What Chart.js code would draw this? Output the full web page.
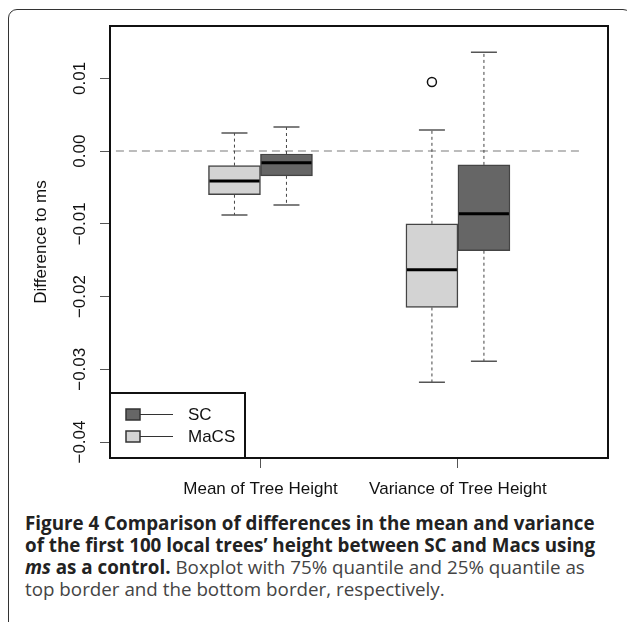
<!DOCTYPE html>
<html lang="en">
<head>
    <meta charset="UTF-8">
    <title>Figure 4</title>
    <script src="https://cdn.jsdelivr.net/npm/chart.js@4"></script>
    <style>
        html, body {
            margin: 0;
            padding: 0;
            background: #fff;
            overflow: hidden;
            width: 627px;
            height: 622px;
        }
        .frame {
            position: absolute;
            left: 8px;
            top: 9px;
            width: 622px;
            height: 700px;
            border: 1.5px solid #333;
            border-radius: 9px;
        }
        .chart-box {
            position: absolute;
            left: 0;
            top: 0;
            width: 627px;
            height: 505px;
        }
        .caption {
            position: absolute;
            left: 25px;
            top: 512px;
            width: 600px;
            font-family: "Open Sans", sans-serif;
            font-size: 18.8px;
            line-height: 22px;
            color: #444;
            white-space: nowrap;
        }
        .caption b {
            color: #222;
        }
    </style>
</head>
<body>
    <div class="frame"></div>
    <div class="chart-box">
        <canvas id="boxChart"></canvas>
    </div>
    <div class="caption">
        <b>Figure 4 Comparison of differences in the mean and variance<br>
        of the first 100 local trees’ height between SC and Macs using<br>
        <i>ms</i> as a control.</b> Boxplot with 75% quantile and 25% quantile as<br>
        top border and the bottom border, respectively.
    </div>

    <script>
        // categories
        const groups = ['Mean of Tree Height', 'Variance of Tree Height'];
        const yTicks = [-0.04, -0.03, -0.02, -0.01, 0.00, 0.01];

        // MaCS (light boxes)
        const macsLow = [-0.0088, -0.0318];
        const macsQ1 = [-0.0060, -0.0215];
        const macsMedian = [-0.0041, -0.0163];
        const macsQ3 = [-0.0020, -0.0100];
        const macsHigh = [0.0025, 0.0029];
        const macsOutliers = [[], [0.0095]];

        // SC (dark boxes)
        const scLow = [-0.0074, -0.0289];
        const scQ1 = [-0.0034, -0.0137];
        const scMedian = [-0.0016, -0.0086];
        const scQ3 = [-0.0004, -0.0019];
        const scHigh = [0.0033, 0.0136];
        const scOutliers = [[], []];

        // dashed reference line at zero
        const refValue = 0;
        const refFrom = 0.268;
        const refTo = 2.618;

        const FONT = 'Liberation Sans';

        function makeSet(label, q1, q3, low, med, high, outl, fill) {
            return {
                label: label,
                data: groups.map((g, i) => ({ x: i + 1, y: [q1[i], q3[i]] })),
                backgroundColor: fill,
                borderColor: '#444',
                borderWidth: 1.5,
                borderSkipped: false,
                barThickness: 52,
                stats: { low: low, median: med, high: high, outliers: outl }
            };
        }

        // zero line under the boxes
        const refLine = {
            id: 'refLine',
            beforeDatasetsDraw(chart) {
                const ctx = chart.ctx;
                const xs = chart.scales.x, ys = chart.scales.y;
                const y = ys.getPixelForValue(refValue);
                ctx.save();
                ctx.strokeStyle = '#bcbcbc';
                ctx.lineWidth = 2;
                ctx.setLineDash([8, 5]);
                ctx.beginPath();
                ctx.moveTo(xs.getPixelForValue(refFrom), y);
                ctx.lineTo(xs.getPixelForValue(refTo), y);
                ctx.stroke();
                ctx.restore();
            }
        };

        // whiskers, caps, medians, outliers, frame, legend
        const boxParts = {
            id: 'boxParts',
            afterDatasetsDraw(chart) {
                const ctx = chart.ctx;
                const ys = chart.scales.y;
                ctx.save();
                chart.data.datasets.forEach((ds, d) => {
                    const meta = chart.getDatasetMeta(d);
                    const st = ds.stats;
                    meta.data.forEach((bar, i) => {
                        const x = bar.x;
                        const half = bar.width / 2;
                        const q1 = ys.getPixelForValue(ds.data[i].y[0]);
                        const q3 = ys.getPixelForValue(ds.data[i].y[1]);
                        const lo = ys.getPixelForValue(st.low[i]);
                        const hi = ys.getPixelForValue(st.high[i]);
                        const md = ys.getPixelForValue(st.median[i]);

                        // dashed whiskers
                        ctx.strokeStyle = '#444';
                        ctx.lineWidth = 1;
                        ctx.setLineDash([3, 3]);
                        ctx.beginPath();
                        ctx.moveTo(x, q3);
                        ctx.lineTo(x, hi);
                        ctx.moveTo(x, q1);
                        ctx.lineTo(x, lo);
                        ctx.stroke();

                        // caps
                        ctx.setLineDash([]);
                        ctx.lineWidth = 1.5;
                        ctx.strokeStyle = '#555';
                        ctx.beginPath();
                        ctx.moveTo(x - half / 2, hi);
                        ctx.lineTo(x + half / 2, hi);
                        ctx.moveTo(x - half / 2, lo);
                        ctx.lineTo(x + half / 2, lo);
                        ctx.stroke();

                        // median
                        ctx.strokeStyle = '#000';
                        ctx.lineWidth = 3;
                        ctx.beginPath();
                        ctx.moveTo(x - half + 1, md);
                        ctx.lineTo(x + half - 1, md);
                        ctx.stroke();

                        // outliers
                        ctx.lineWidth = 1.5;
                        ctx.strokeStyle = '#111';
                        st.outliers[i].forEach(v => {
                            ctx.beginPath();
                            ctx.arc(x, ys.getPixelForValue(v), 4.5, 0, Math.PI * 2);
                            ctx.stroke();
                        });
                    });
                });
                ctx.restore();
            },
            afterDraw(chart) {
                const ctx = chart.ctx;
                const a = chart.chartArea;
                ctx.save();
                // plot box
                ctx.strokeStyle = '#111';
                ctx.lineWidth = 2;
                ctx.strokeRect(a.left, a.top, a.right - a.left, a.bottom - a.top);

                // legend box in the lower left corner
                const lw = 135, lh = 65;
                const lx = a.left, ly = a.bottom - lh;
                ctx.fillStyle = '#fff';
                ctx.fillRect(lx, ly, lw, lh);
                ctx.strokeRect(lx, ly, lw, lh);

                const items = chart.data.datasets.slice().reverse();
                ctx.font = '17px "' + FONT + '"';
                ctx.textBaseline = 'middle';
                items.forEach((ds, k) => {
                    const cy = ly + 21.5 + k * 22;
                    ctx.strokeStyle = '#333';
                    ctx.lineWidth = 1.2;
                    ctx.beginPath();
                    ctx.moveTo(lx + 30, cy);
                    ctx.lineTo(lx + 63, cy);
                    ctx.stroke();
                    ctx.fillStyle = ds.backgroundColor;
                    ctx.fillRect(lx + 16, cy - 5.5, 14, 11);
                    ctx.lineWidth = 1.5;
                    ctx.strokeRect(lx + 16, cy - 5.5, 14, 11);
                    ctx.fillStyle = '#111';
                    ctx.fillText(ds.label, lx + 78, cy + 1);
                });
                ctx.restore();
            }
        };

        const ctx = document.getElementById('boxChart').getContext('2d');
        new Chart(ctx, {
            type: 'bar',
            data: {
                datasets: [
                    makeSet('MaCS', macsQ1, macsQ3, macsLow, macsMedian, macsHigh, macsOutliers, '#d3d3d3'),
                    makeSet('SC', scQ1, scQ3, scLow, scMedian, scHigh, scOutliers, '#666666')
                ]
            },
            options: {
                responsive: true,
                maintainAspectRatio: false,
                animation: false,
                layout: {
                    padding: { left: 0, top: 26, right: 19, bottom: 0 }
                },
                plugins: {
                    legend: { display: false },
                    tooltip: { enabled: false }
                },
                scales: {
                    x: {
                        type: 'linear',
                        min: 0.238,
                        max: 2.76,
                        offset: false,
                        afterBuildTicks: s => { s.ticks = groups.map((g, i) => ({ value: i + 1 })); },
                        afterFit: s => { s.height = 47; },
                        border: { display: false },
                        grid: {
                            offset: false,
                            drawOnChartArea: false,
                            drawTicks: true,
                            tickLength: 10,
                            color: '#555',
                            lineWidth: 1
                        },
                        ticks: {
                            autoSkip: false,
                            maxRotation: 0,
                            padding: 11,
                            color: '#111',
                            font: { family: FONT, size: 17 },
                            callback: v => groups[v - 1]
                        }
                    },
                    y: {
                        min: -0.0422,
                        max: 0.0172,
                        afterBuildTicks: s => { s.ticks = yTicks.map(v => ({ value: v })); },
                        afterFit: s => { s.width = 110; },
                        border: { display: false },
                        grid: {
                            drawOnChartArea: false,
                            drawTicks: true,
                            tickLength: 10,
                            color: '#555',
                            lineWidth: 1
                        },
                        ticks: {
                            minRotation: 90,
                            maxRotation: 90,
                            crossAlign: 'center',
                            padding: -2,
                            color: '#111',
                            font: { family: FONT, size: 17 },
                            callback: v => v.toFixed(2).replace('-', '\u2212')
                        },
                        title: {
                            display: true,
                            text: 'Difference to ms',
                            color: '#111',
                            font: { family: FONT, size: 17 },
                            padding: { top: 31, bottom: 0 }
                        }
                    }
                }
            },
            plugins: [refLine, boxParts]
        });
    </script>
</body>
</html>
